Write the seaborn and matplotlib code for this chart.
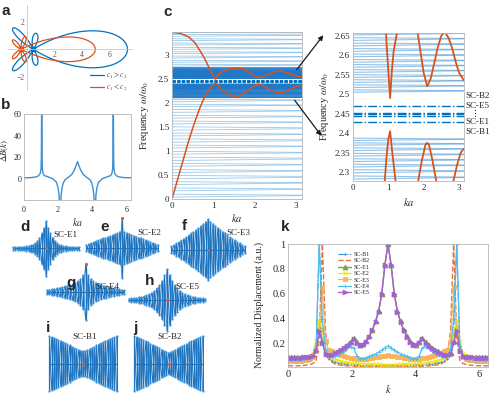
import numpy as np
import pandas as pd
import matplotlib
matplotlib.use("Agg")
import matplotlib.pyplot as plt
import seaborn as sns

W, H = 498, 398
BLUE = "#0072BD"
ORANGE = "#D95319"

# ---------- panel a : lobes (direction deg, length, half width deg)
a_blue_center = 0.48
a_blue_dirs = [0, 80, -80, 134, -134]
a_blue_len = [6.85, 1.18, 1.18, 2.14, 2.14]
a_blue_width = [32, 27, 27, 17, 17]
a_orange_center = -0.41
a_orange_dirs = [0, 71, -71, 132, -132]
a_orange_len = [5.4, 0.97, 0.97, 0.91, 0.91]
a_orange_width = [27, 22, 22, 22, 22]

# ---------- panel b : Delta B(k), half period (mirrored about pi)
b_k_half = [0, 0.4, 0.7, 0.85, 0.95, 1.0, 1.02, 1.04, 1.06, 1.08, 1.12, 1.2, 1.4, 1.7, 1.9,
            2.0, 2.06, 2.1, 2.12, 2.14, 2.18, 2.24, 2.3, 2.4, 2.6, 2.8, 2.95, 3.05, np.pi]
b_val_half = [1, 1.2, 1.8, 2.8, 5, 9, 20, 80, 20, 9, 5, 3, 2, 0, -3,
              -8, -15, -30, -60, -30, -15, -8, -4, -1, 1.5, 4, 8, 12, 16]

# ---------- panel c : bulk bands (value at k=0, value at k=pi)
sparse_k0 = [0.04, 0.10, 0.17, 0.23, 0.30, 0.36, 0.42, 0.49, 0.55, 0.61, 0.68, 0.74, 0.80, 0.87,
             0.93, 0.99, 1.06, 1.12, 1.18, 1.25, 1.31, 1.37, 1.43, 1.50, 1.56, 1.62, 1.68, 1.74,
             1.80, 1.86, 1.92, 1.97, 2.02, 2.07,
             2.76, 2.80, 2.84, 2.88, 2.93, 2.97, 3.02, 3.06, 3.11, 3.15, 3.20, 3.24, 3.29, 3.33,
             3.38, 3.42, 3.46]
sparse_kpi = [0.07, 0.08, 0.20, 0.21, 0.33, 0.34, 0.45, 0.47, 0.58, 0.59, 0.71, 0.72, 0.83, 0.85,
              0.96, 0.97, 1.09, 1.10, 1.21, 1.23, 1.34, 1.35, 1.46, 1.48, 1.59, 1.60, 1.71, 1.72,
              1.83, 1.84, 1.95, 1.95, 2.05, 2.06,
              2.78, 2.79, 2.86, 2.87, 2.95, 2.96, 3.04, 3.05, 3.13, 3.14, 3.22, 3.23, 3.31, 3.32,
              3.40, 3.41, 3.45]
dense_k0 = [2.105, 2.118, 2.131, 2.144, 2.157, 2.170, 2.183, 2.196, 2.209, 2.222, 2.235, 2.248,
            2.260, 2.271, 2.282, 2.290, 2.298, 2.306, 2.313, 2.320, 2.327, 2.334, 2.341, 2.348,
            2.355, 2.362, 2.369, 2.375, 2.381, 2.387,
            2.505, 2.511, 2.517, 2.524, 2.530, 2.537, 2.543, 2.550, 2.556, 2.563, 2.569, 2.576,
            2.582, 2.589, 2.596, 2.603, 2.610, 2.617, 2.624, 2.631, 2.638, 2.645, 2.652, 2.659,
            2.668, 2.680, 2.692, 2.704, 2.716, 2.728]
dense_kpi = [2.112, 2.113, 2.138, 2.139, 2.164, 2.165, 2.190, 2.191, 2.216, 2.217, 2.242, 2.243,
             2.266, 2.267, 2.286, 2.287, 2.302, 2.303, 2.317, 2.318, 2.331, 2.332, 2.345, 2.346,
             2.359, 2.360, 2.372, 2.373, 2.384, 2.385,
             2.508, 2.509, 2.521, 2.522, 2.534, 2.535, 2.547, 2.548, 2.560, 2.561, 2.573, 2.574,
             2.586, 2.587, 2.600, 2.601, 2.614, 2.615, 2.628, 2.629, 2.642, 2.643, 2.656, 2.657,
             2.674, 2.675, 2.698, 2.699, 2.722, 2.723]
edge_freqs = [2.429, 2.445, 2.448, 2.451, 2.470]

c_up_k = [0, 0.2, 0.4, 0.55, 0.7, 0.8, 0.9, 0.95, 1.0, 1.05, 1.1, 1.15, 1.25, 1.4, 1.55, 1.7,
          1.8, 1.9, 2.0, 2.1, 2.2, 2.3, 2.4, 2.5, 2.6, 2.7, 2.8, 2.9, 3.0, np.pi]
c_up_w = [3.46, 3.44, 3.37, 3.25, 3.05, 2.90, 2.72, 2.63, 2.56, 2.49, 2.56, 2.61, 2.66, 2.71,
          2.725, 2.71, 2.675, 2.615, 2.555, 2.52, 2.54, 2.58, 2.62, 2.65, 2.66, 2.645, 2.62,
          2.585, 2.555, 2.535]
c_lo_k = [0, 0.1, 0.2, 0.3, 0.4, 0.5, 0.6, 0.7, 0.8, 0.9, 0.95, 1.0, 1.05, 1.1, 1.2, 1.3, 1.45,
          1.55, 1.65, 1.75, 1.85, 1.95, 2.05, 2.1, 2.15, 2.25, 2.35, 2.45, 2.6, 2.75, 2.85, 2.95,
          3.05, np.pi]
c_lo_w = [0.0, 0.30, 0.60, 0.90, 1.20, 1.47, 1.72, 1.95, 2.14, 2.28, 2.34, 2.385, 2.405, 2.36,
          2.28, 2.21, 2.15, 2.13, 2.15, 2.21, 2.28, 2.33, 2.37, 2.375, 2.37, 2.33, 2.28, 2.23,
          2.20, 2.23, 2.28, 2.32, 2.35, 2.36]

state_labels = ["SC-B2", "SC-E5", "\u22ee", "SC-E1", "SC-B1"]
state_label_y = [2.494, 2.470, 2.450, 2.428, 2.403]

# ---------- panels d-j : mode envelopes (centre -> edge)
env_E1 = [1.0, 0.75, 0.55, 0.4, 0.28, 0.19, 0.14, 0.11, 0.09, 0.075, 0.065, 0.058, 0.052, 0.048, 0.045, 0.042]
env_E2 = [1.0, 0.55, 0.5, 0.47, 0.44, 0.41, 0.38, 0.35, 0.32, 0.29, 0.26, 0.23, 0.2, 0.17, 0.14, 0.11]
env_E3 = [1.0, 0.92, 0.85, 0.78, 0.71, 0.65, 0.59, 0.53, 0.47, 0.41, 0.36, 0.3, 0.25, 0.2, 0.15, 0.1]
env_E4 = [1.0, 0.6, 0.45, 0.38, 0.33, 0.29, 0.26, 0.23, 0.2, 0.18, 0.16, 0.14, 0.12, 0.1, 0.08, 0.06]
env_E5 = [1.0, 0.8, 0.62, 0.48, 0.38, 0.3, 0.24, 0.19, 0.15, 0.12, 0.1, 0.085, 0.07, 0.06, 0.05, 0.04]
env_B1 = [0.45, 0.47, 0.5, 0.54, 0.58, 0.62, 0.66, 0.7, 0.74, 0.78, 0.82, 0.86, 0.9, 0.93, 0.96, 1.0]
env_B2 = [0.4, 0.43, 0.47, 0.51, 0.55, 0.6, 0.64, 0.68, 0.72, 0.77, 0.81, 0.85, 0.89, 0.93, 0.97, 1.0]

# ---------- panel k : normalized displacement, k in [0, pi] (mirrored)
kd_B1 = [0.05, 0.05, 0.05, 0.05, 0.052, 0.055, 0.06, 0.068, 0.085, 0.16,
         1.0, 0.28, 0.11, 0.075, 0.06, 0.05, 0.045, 0.04, 0.037, 0.034,
         0.032, 0.03, 0.029, 0.028, 0.027, 0.026, 0.025, 0.025, 0.024, 0.024,
         0.024, 0.024, 0.024]
kd_B2 = [0.02, 0.02, 0.02, 0.02, 0.021, 0.023, 0.026, 0.03, 0.038, 0.06,
         0.25, 1.0, 0.3, 0.09, 0.05, 0.035, 0.028, 0.024, 0.021, 0.019,
         0.018, 0.017, 0.016, 0.016, 0.015, 0.015, 0.015, 0.015, 0.015, 0.015,
         0.015, 0.015, 0.015]
kd_E1 = [0.09, 0.09, 0.09, 0.09, 0.09, 0.09, 0.092, 0.095, 0.105, 0.15,
         0.33, 0.22, 0.12, 0.11, 0.115, 0.125, 0.135, 0.15, 0.165, 0.185,
         0.215, 0.245, 0.215, 0.19, 0.195, 0.22, 0.26, 0.31, 0.38, 0.46,
         0.6, 0.83, 1.0]
kd_E2 = [0.08, 0.08, 0.08, 0.08, 0.08, 0.082, 0.086, 0.095, 0.12, 0.22,
         0.38, 0.3, 0.15, 0.1, 0.08, 0.07, 0.063, 0.057, 0.052, 0.048,
         0.045, 0.042, 0.04, 0.038, 0.036, 0.035, 0.034, 0.033, 0.032, 0.031,
         0.03, 0.03, 0.03]
kd_E3 = [0.055, 0.055, 0.056, 0.058, 0.06, 0.063, 0.068, 0.076, 0.09, 0.14,
         0.3, 0.65, 0.22, 0.15, 0.135, 0.125, 0.115, 0.105, 0.097, 0.09,
         0.085, 0.08, 0.077, 0.075, 0.075, 0.077, 0.08, 0.084, 0.088, 0.093,
         0.098, 0.102, 0.105]
kd_E4 = [0.065, 0.065, 0.066, 0.067, 0.07, 0.073, 0.078, 0.085, 0.1, 0.18,
         1.0, 0.4, 0.15, 0.1, 0.09, 0.095, 0.105, 0.12, 0.14, 0.16,
         0.175, 0.165, 0.1, 0.075, 0.075, 0.085, 0.095, 0.105, 0.115, 0.13,
         0.145, 0.165, 0.18]
kd_E5 = [0.085, 0.085, 0.085, 0.085, 0.085, 0.087, 0.09, 0.093, 0.1, 0.14,
         0.30, 0.2, 0.115, 0.105, 0.11, 0.12, 0.13, 0.145, 0.16, 0.18,
         0.205, 0.235, 0.205, 0.185, 0.19, 0.215, 0.255, 0.305, 0.375, 0.455,
         0.6, 0.83, 1.0]

sns.set_theme(style="white")
plt.rcParams["font.family"] = ["Liberation Serif", "DejaVu Serif"]
plt.rcParams["mathtext.fontset"] = "stix"

fig = plt.figure(figsize=(W / 100, H / 100), dpi=100)


def box(x0, y0, x1, y1):
    return fig.add_axes([x0 / W, 1 - y1 / H, (x1 - x0) / W, (y1 - y0) / H])


def fx(x):
    return x / W


def fy(y):
    return 1 - y / H


def matlab_box(ax, size=6.5):
    for s in ax.spines.values():
        s.set_color("#b5b5b5")
        s.set_linewidth(0.6)
    ax.tick_params(direction="in", length=2, width=0.5, color="#b5b5b5",
                   labelsize=size, pad=2, labelcolor="#262626")


def petals(center, dirs, lens, widths):
    th = np.linspace(-np.pi, np.pi, 1441)
    r = np.zeros_like(th)
    for d, L, w in zip(dirs, lens, widths):
        phi = np.angle(np.exp(1j * (th - np.radians(d))))
        wr = np.radians(w)
        m = np.abs(phi) < wr
        r[m] += L * np.cos(np.pi * phi[m] / (2 * wr))
    return center + r * np.cos(th), r * np.sin(th)


def mirror(half):
    return list(half) + list(half[-2::-1])


# ---------------- a
ax = box(8, 5, 132, 90)
xb, yb = petals(a_blue_center, a_blue_dirs, a_blue_len, a_blue_width)
xo, yo = petals(a_orange_center, a_orange_dirs, a_orange_len, a_orange_width)
sns.lineplot(x=xb, y=yb, ax=ax, sort=False, estimator=None, color=BLUE, lw=0.9,
             label=r"$c_1 > c_2$")
sns.lineplot(x=xo, y=yo, ax=ax, sort=False, estimator=None, color=ORANGE, lw=0.9,
             label=r"$c_1 < c_2$")
ax.plot([a_blue_center], [0], "o", color=BLUE, ms=3)
ax.plot([a_orange_center], [0], "o", color=ORANGE, ms=3)
ax.set_xlim(-1.36, 7.66)
ax.set_ylim(-2.96, 3.22)
for s in ["top", "right"]:
    ax.spines[s].set_visible(False)
for s in ["left", "bottom"]:
    ax.spines[s].set_position(("data", 0))
    ax.spines[s].set_color("#c8c8c8")
    ax.spines[s].set_linewidth(0.6)
ax.set_xticks([2, 4, 6])
ax.set_yticks([-2, 2])
ax.tick_params(direction="in", length=2, width=0.5, color="#c8c8c8", labelsize=5.5,
               labelcolor="#555555", pad=1.5)
ax.set_facecolor("none")
leg = ax.legend(loc="lower right", bbox_to_anchor=(1.02, -0.12), fontsize=5.5, frameon=False,
                handlelength=1.8, labelspacing=0.25, handletextpad=0.3)
for t in leg.get_texts():
    t.set_color("#555555")

# ---------------- b
ax = box(24, 114, 131, 200)
bk = b_k_half + [2 * np.pi - v for v in b_k_half[-2::-1]]
bv = mirror(b_val_half)
sns.lineplot(x=bk, y=bv, ax=ax, sort=False, estimator=None, color="#3b8fd3", lw=1.0)
ax.set_xlim(0, 2 * np.pi)
ax.set_ylim(-19.5, 60)
ax.set_xticks([0, 2, 4, 6])
ax.set_yticks([0, 20, 40, 60])
matlab_box(ax, 5.8)
ax.tick_params(axis="x", pad=4)
ax.set_xlabel(r"$ka$", fontsize=7)
ax.xaxis.set_label_coords(0.5, -0.19)
ax.set_ylabel(r"$\Delta B(k)$", fontsize=6.5)
ax.yaxis.set_label_coords(-0.12, 0.58)


def band_frame(k0, kpi, group):
    n = len(k0)
    return pd.DataFrame({"k": [0.0] * n + [np.pi] * n, "w": list(k0) + list(kpi),
                         "band": [f"{group}{i}" for i in range(n)] * 2})


sparse_df = band_frame(sparse_k0, sparse_kpi, "s")
dense_df = band_frame(dense_k0, dense_kpi, "d")

# ---------------- c
ax = box(172, 32, 302, 199)
sns.lineplot(data=sparse_df, x="k", y="w", units="band", estimator=None, ax=ax,
             color="#5aa5dd", lw=0.6, alpha=0.6)
sns.lineplot(data=dense_df, x="k", y="w", units="band", estimator=None, ax=ax,
             color="#1f78c8", lw=0.8, alpha=0.9)
for f in edge_freqs:
    ax.axhline(f, color=BLUE, lw=0.8, ls=(0, (3, 1.2)))
sns.lineplot(x=c_up_k, y=c_up_w, ax=ax, color=ORANGE, lw=1.1, estimator=None)
sns.lineplot(x=c_lo_k, y=c_lo_w, ax=ax, color=ORANGE, lw=1.1, estimator=None)
ax.set_xlim(0, np.pi)
ax.set_ylim(0, 3.47)
ax.set_xticks([0, 1, 2, 3])
ax.set_yticks([0, 0.5, 1, 1.5, 2, 2.5, 3])
ax.set_yticklabels(["0", "0.5", "1", "1.5", "2", "2.5", "3"])
matlab_box(ax, 6.5)
ax.set_xlabel(r"$ka$", fontsize=7.5)
ax.xaxis.set_label_coords(0.5, -0.075)
ax.set_ylabel(r"Frequency $\omega/\omega_0$", fontsize=7.5)
ax.yaxis.set_label_coords(-0.16, 0.5)

# ---------------- zoom of c
ax = box(353, 33, 464, 181)
sns.lineplot(data=sparse_df, x="k", y="w", units="band", estimator=None, ax=ax,
             color="#5aa5dd", lw=0.7, alpha=0.6)
sns.lineplot(data=dense_df, x="k", y="w", units="band", estimator=None, ax=ax,
             color="#3c8fd2", lw=0.8, alpha=0.55)
for f in edge_freqs:
    ax.axhline(f, color=BLUE, lw=1.0, ls="-.")
sns.lineplot(x=c_up_k, y=c_up_w, ax=ax, color=ORANGE, lw=1.3, estimator=None)
sns.lineplot(x=c_lo_k, y=c_lo_w, ax=ax, color=ORANGE, lw=1.3, estimator=None)
ax.set_xlim(0, np.pi)
ax.set_ylim(2.277, 2.657)
ax.set_xticks([0, 1, 2, 3])
zt = [2.3, 2.35, 2.4, 2.45, 2.5, 2.55, 2.6, 2.65]
ax.set_yticks(zt)
ax.set_yticklabels([f"{v:g}" for v in zt])
matlab_box(ax, 6.5)
ax.set_xlabel(r"$ka$", fontsize=7.5)
ax.xaxis.set_label_coords(0.5, -0.1)
ax.set_ylabel(r"Frequency $\omega/\omega_0$", fontsize=7.5)
ax.yaxis.set_label_coords(-0.2, 0.5)
for lab, yv in zip(state_labels, state_label_y):
    if lab == "\u22ee":
        ax.text(1.1, yv, lab, transform=ax.get_yaxis_transform(), fontsize=6.5,
                va="center", ha="center", family="DejaVu Sans")
    else:
        ax.text(1.01, yv, lab, transform=ax.get_yaxis_transform(), fontsize=6.5,
                va="center", ha="left")

# arrows between c and its zoom
fig.add_artist(matplotlib.patches.FancyArrowPatch(
    (fx(295), fy(72)), (fx(325), fy(33)), transform=fig.transFigure,
    arrowstyle="-|>", mutation_scale=7, color="k", lw=0.9))
fig.add_artist(matplotlib.patches.FancyArrowPatch(
    (fx(293), fy(98)), (fx(323), fy(138)), transform=fig.transFigure,
    arrowstyle="-|>", mutation_scale=7, color="k", lw=0.9))


# ---------------- d-j mode shapes
def mode_panel(px_box, env_half, dot_top):
    ax = box(*px_box)
    env = np.array(list(env_half[::-1]) + list(env_half[1:]))
    n = len(env)
    idx = np.arange(n) - (n - 1) // 2
    sign = np.where(idx % 2 == 0, 1, -1)
    ax.fill_between(idx, -env, env, color="#a9cdee", alpha=0.6, lw=0)
    ax.vlines(idx, -env, env, color="#1f74bf", lw=0.9)
    ax.plot(idx, sign * env, color="#1f74bf", lw=0.5)
    ax.plot(idx, -sign * env, color="#1f74bf", lw=0.5)
    ax.plot(idx, np.zeros(n), color="#1f74bf", lw=0.8)
    ax.scatter(np.r_[idx, idx], np.r_[env, -env], s=2.5, color="#3b93d9", lw=0, zorder=3)
    ax.scatter([0], [env[(n - 1) // 2] if dot_top else 0], s=5, color="#e8542a", lw=0,
               zorder=4)
    ax.set_xlim(idx[0] - 0.6, idx[-1] + 0.6)
    ax.set_ylim(-1.04, 1.04)
    ax.axis("off")


mode_panel((12, 220, 80, 277), env_E1, False)
mode_panel((85, 217, 159, 279), env_E2, True)
mode_panel((170, 218, 246, 281), env_E3, False)
mode_panel((45, 263, 126, 321), env_E4, True)
mode_panel((127, 268, 207, 332), env_E5, False)
mode_panel((48, 335, 118, 392), env_B1, False)
mode_panel((133, 335, 204, 392), env_B2, False)

mode_labels = [("SC-E1", 53, 235), ("SC-E2", 137, 233), ("SC-E3", 226, 233),
               ("SC-E4", 95, 287), ("SC-E5", 175, 287), ("SC-B1", 72, 337),
               ("SC-B2", 157, 337)]
for t, x, y in mode_labels:
    fig.text(fx(x), fy(y), t, fontsize=6.5, va="center", ha="left")

# ---------------- k
ax = box(288, 244, 488, 367)
kgrid = np.linspace(0, 2 * np.pi, 65)
series = [("SC-B1", kd_B1, "#3a8fd6", ".", "-.", 2.0, 0.8),
          ("SC-B2", kd_B2, "#E8733A", None, "--", 0, 1.0),
          ("SC-E1", kd_E1, "#77A63A", "^", "-", 3.5, 1.0),
          ("SC-E2", kd_E2, "#F2E21E", "x", "-", 2.5, 0.9),
          ("SC-E3", kd_E3, "#F5B55A", "s", "-", 2.5, 0.9),
          ("SC-E4", kd_E4, "#4DBEEE", "+", "-", 3.0, 0.9),
          ("SC-E5", kd_E5, "#A45FD6", ">", "-", 3.5, 1.0)]
for name, half, col, mk, ls, ms, lw in series:
    sns.lineplot(x=kgrid, y=mirror(half), ax=ax, color=col, marker=mk, markersize=ms,
                 markeredgecolor=col, markeredgewidth=0.6, linestyle=ls, lw=lw,
                 label=name, estimator=None)
ax.set_xlim(0, 2 * np.pi)
ax.set_ylim(0.01, 1.0)
ax.set_xticks([0, 2, 4, 6])
ax.set_yticks([0.2, 0.4, 0.6, 0.8, 1.0])
ax.set_yticklabels(["0.2", "0.4", "0.6", "0.8", "1"])
matlab_box(ax, 7.5)
ax.set_xlabel(r"$k$", fontsize=7.5)
ax.xaxis.set_label_coords(0.5, -0.13)
ax.set_ylabel("Normalized Displacement (a.u.)", fontsize=7)
ax.yaxis.set_label_coords(-0.12, 0.5)
ax.legend(loc="upper left", bbox_to_anchor=(0.235, 0.96), fontsize=4.3, frameon=False,
          handlelength=2.2, labelspacing=0.2, borderpad=0, handletextpad=0.4)

# panel letters
for lab, x, y in [("a", 2, 4), ("b", 1, 98), ("c", 163, 5), ("d", 20, 220), ("e", 100, 220),
                  ("f", 182, 219), ("g", 66, 276), ("h", 145, 274), ("i", 46, 321),
                  ("j", 133, 321), ("k", 281, 220)]:
    fig.text(fx(x), fy(y), lab, fontsize=11, fontweight="bold", family="Liberation Sans",
             va="top", ha="left")

fig.savefig("out.png", dpi=100)
